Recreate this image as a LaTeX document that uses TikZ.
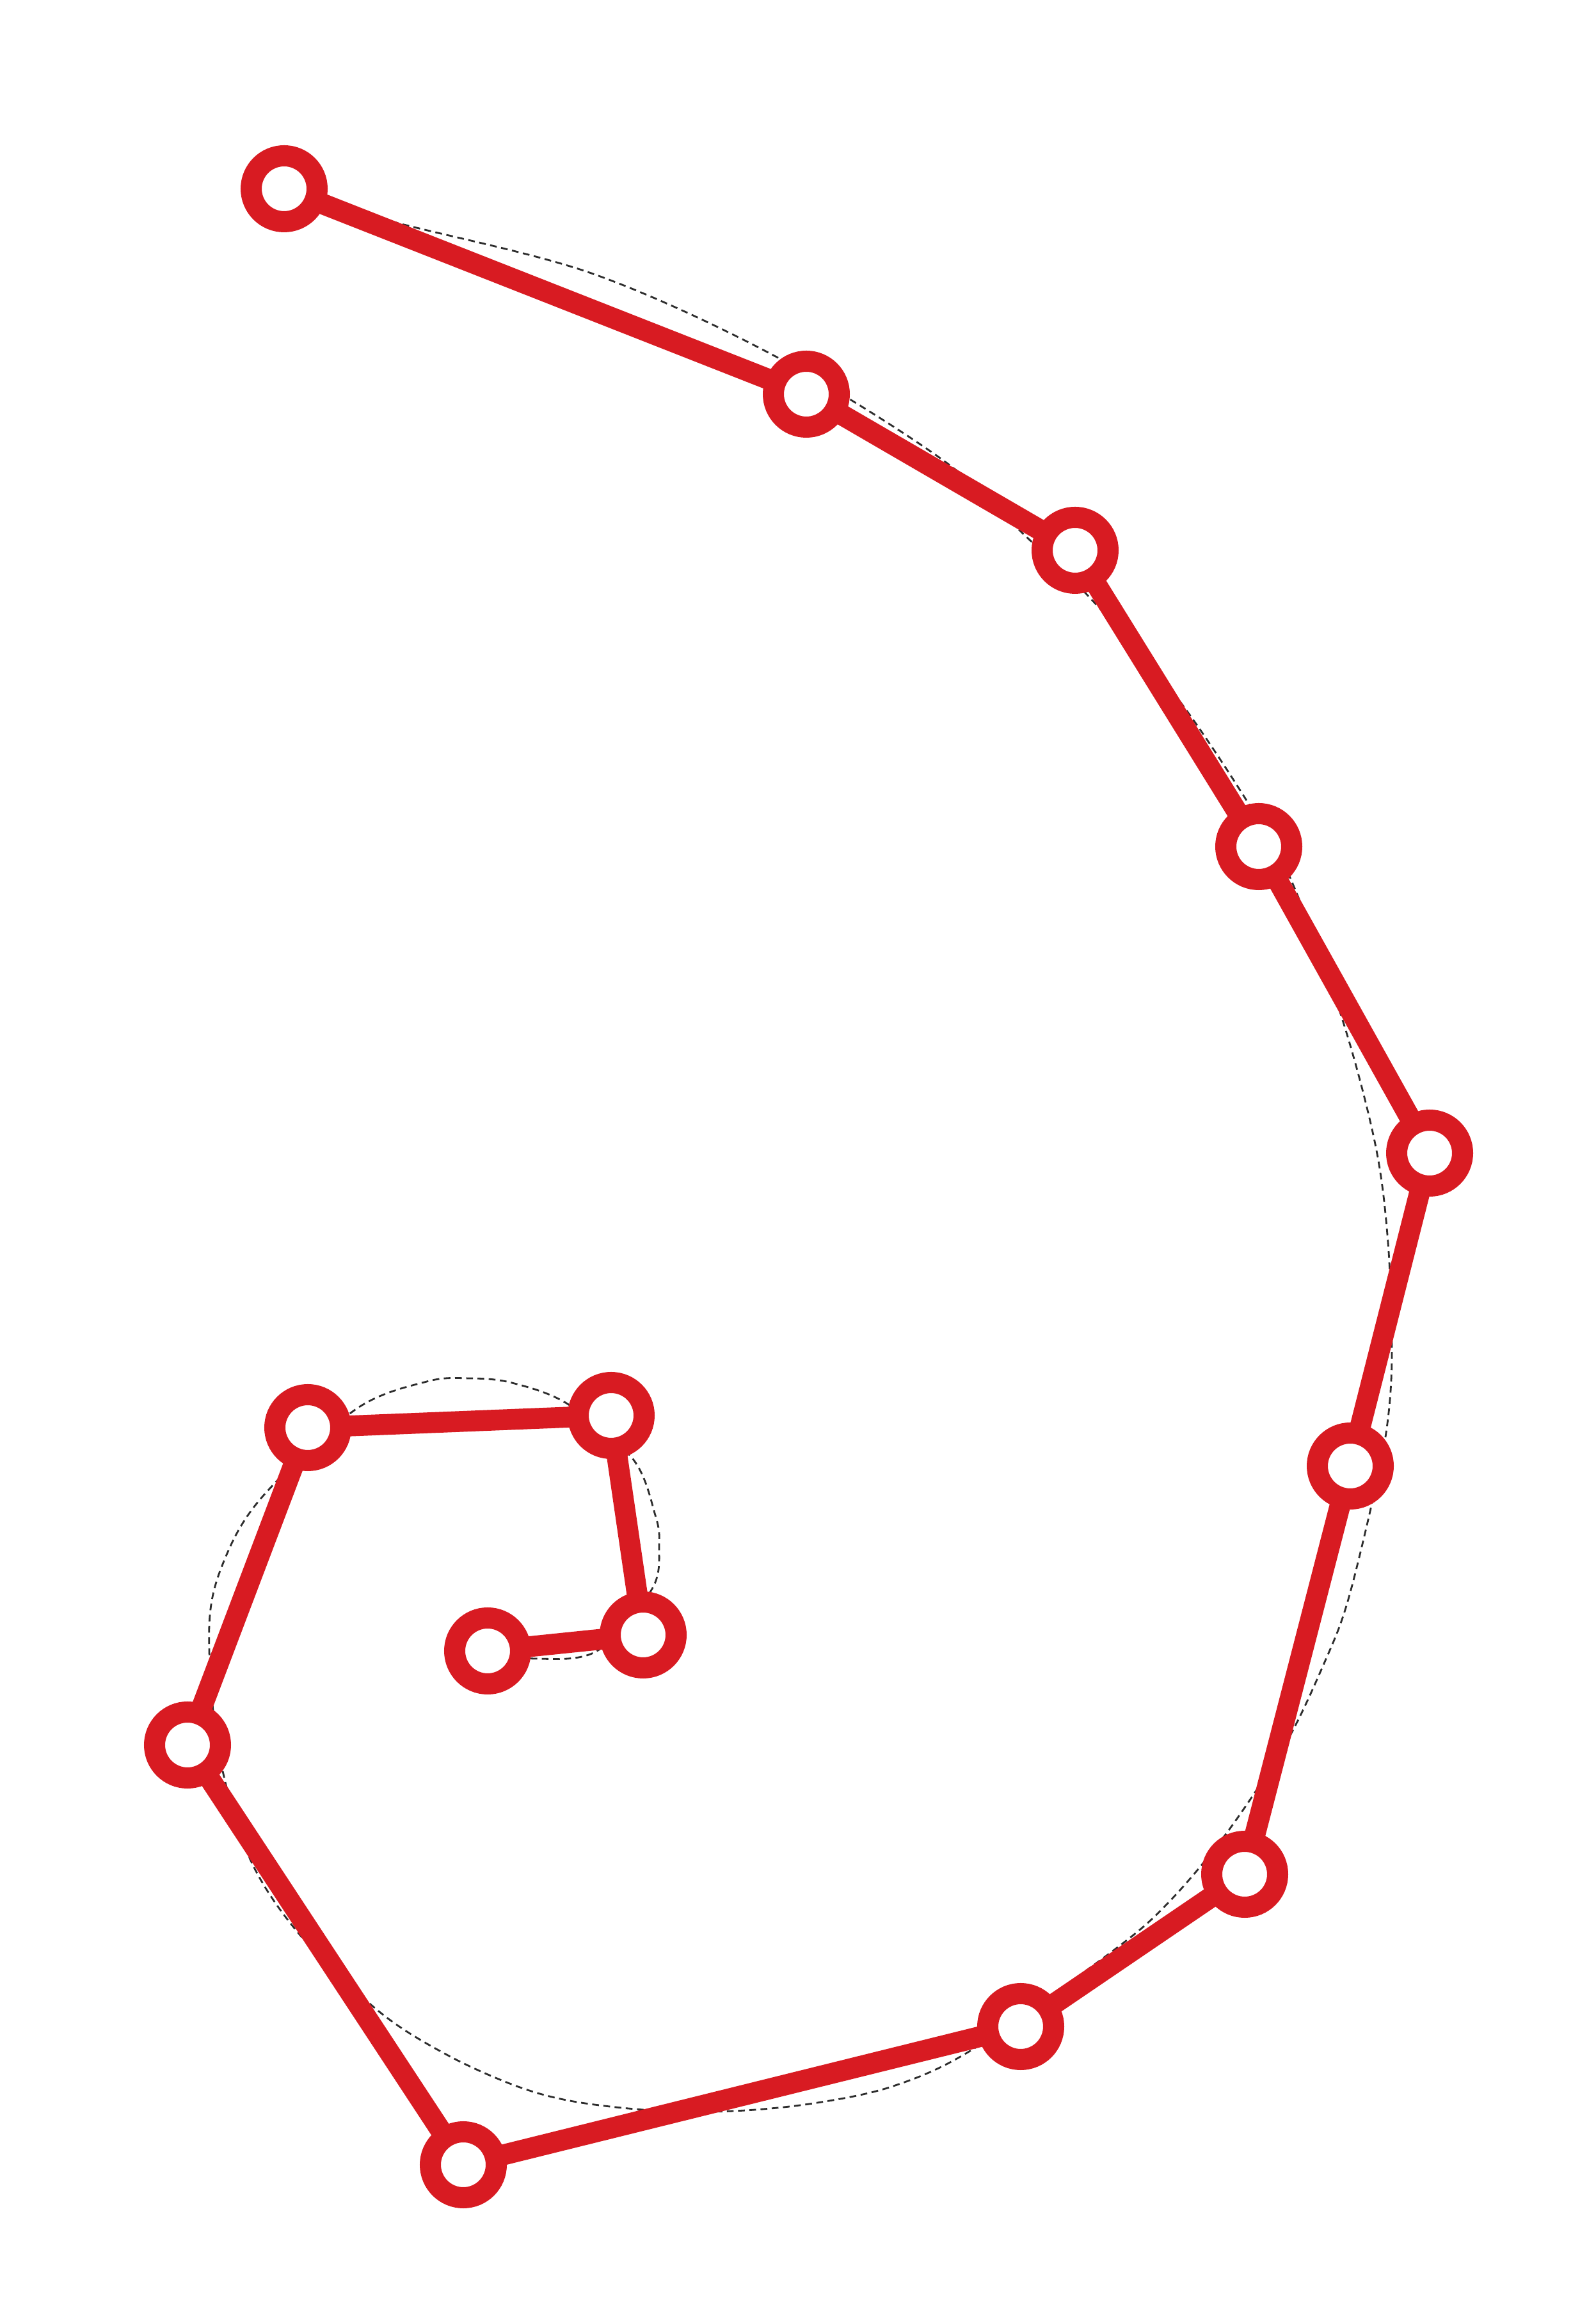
\documentclass[tikz,border=0pt]{standalone}
\usetikzlibrary{backgrounds}
\definecolor{ringred}{RGB}{216,27,34}
\definecolor{spiralgrey}{RGB}{45,45,45}
\begin{document}
\begin{tikzpicture}[
        ring/.style={circle, draw=ringred, line width=0.33cm, fill=white, minimum size=1.03cm, inner sep=0pt},
        link/.style={draw=ringred, line width=0.325cm, line join=round},
        spiral/.style={draw=spiralgrey, line width=0.8pt, dash pattern=on 3pt off 2pt}
    ]
                \useasboundingbox (0,0) rectangle (24.94,36.24);
                \node [ring] (p1) at (4.44,33.29) {};
                \node [ring] (p2) at (12.60,30.08) {};
                \node [ring] (p3) at (16.80,27.64) {};
                \node [ring] (p4) at (19.67,23.01) {};
                \node [ring] (p5) at (22.34,18.22) {};
                \node [ring] (p6) at (21.10,13.33) {};
                \node [ring] (p7) at (19.45,6.95) {};
                \node [ring] (p8) at (15.95,4.57) {};
                \node [ring] (p9) at (7.24,2.41) {};
                \node [ring] (p10) at (2.93,8.97) {};
                \node [ring] (p11) at (4.81,13.93) {};
                \node [ring] (p12) at (9.55,14.12) {};
                \node [ring] (p13) at (10.05,10.69) {};
                \node [ring] (p14) at (7.62,10.44) {};
                \begin{scope}[on background layer]
                    % the smooth curve behind the polygon
                    \draw [spiral] plot [smooth, tension=0.55] coordinates {
                        (p1.center) (6.12,32.78) (9.24,31.97) (12.10,30.68) (14.72,29.06)
                        (16.06,27.83) (17.02,26.91) (18.36,25.38) (19.48,23.73) (20.17,22.50)
                        (20.97,20.33) (21.49,18.36) (21.69,16.82) (21.75,15.06) (21.67,13.92)
                        (21.43,12.71) (21.05,11.18) (20.71,10.29) (20.10,9.01) (19.18,7.61)
                        (18.27,6.52) (17.40,5.76) (15.21,4.22) (13.96,3.64) (12.71,3.37)
                        (11.46,3.25) (10.20,3.26) (8.96,3.40) (8.07,3.64) (7.00,4.12)
                        (5.93,4.80) (4.68,6.01) (3.88,7.25) (3.40,8.97) (3.27,10.84)
                        (3.51,11.87) (4.10,12.85) (5.55,14.21) (6.67,14.65)
                        (7.34,14.70) (8.00,14.63) (8.87,14.30) (9.89,13.44) (10.24,12.56)
                        (10.30,12.10) (10.19,11.41) (9.33,10.44) (8.36,10.32) (p14.center)};
                    \draw [link] (p1.center) -- (p2.center) -- (p3.center) -- (p4.center)
                        -- (p5.center) -- (p6.center) -- (p7.center) -- (p8.center)
                        -- (p9.center) -- (p10.center) -- (p11.center) -- (p12.center)
                        -- (p13.center) -- (p14.center);
                \end{scope}
            \end{tikzpicture}
\end{document}
